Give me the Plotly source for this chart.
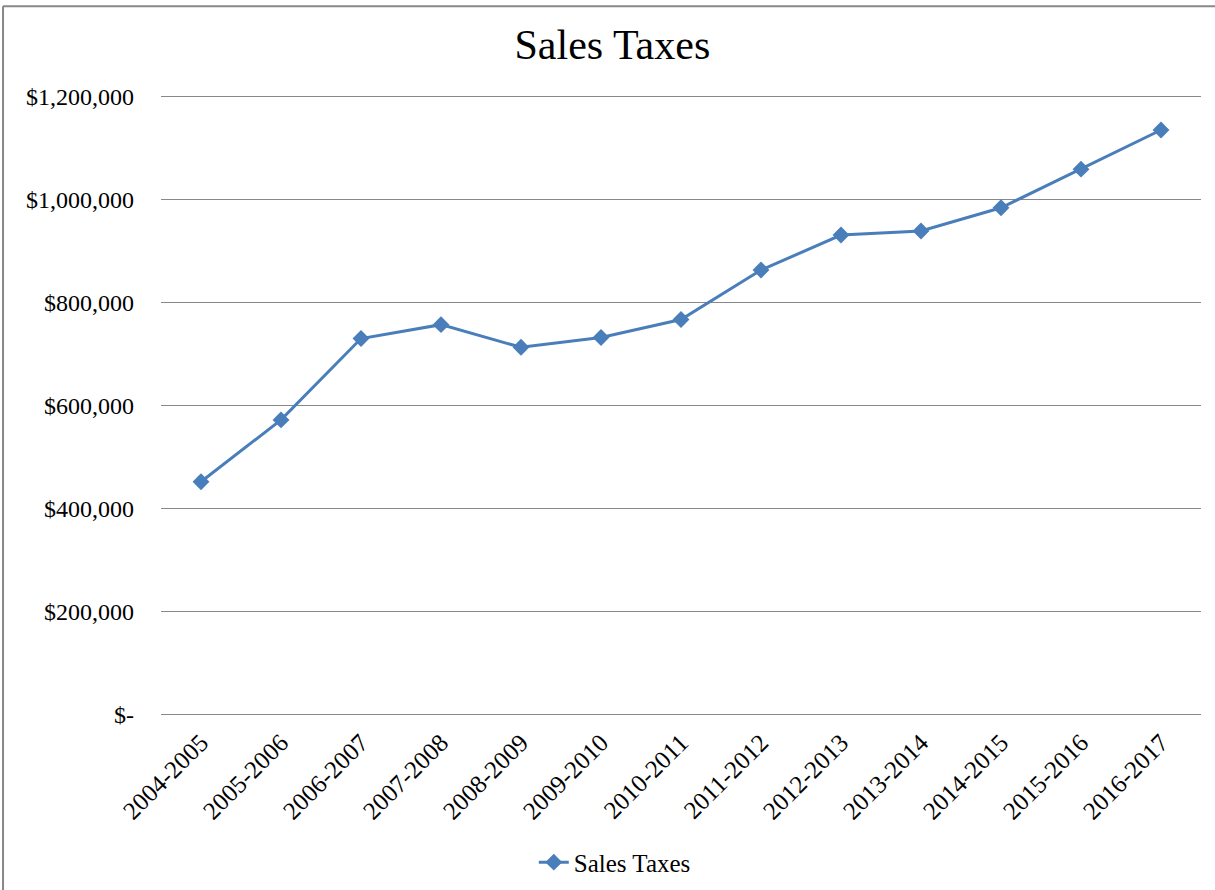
import plotly.graph_objects as go

categories = ["2004-2005", "2005-2006", "2006-2007", "2007-2008", "2008-2009",
              "2009-2010", "2010-2011", "2011-2012", "2012-2013", "2013-2014",
              "2014-2015", "2015-2016", "2016-2017"]
sales_taxes = [452000, 572000, 730000, 757000, 713000, 732000, 767000,
               863000, 931000, 939000, 984000, 1059000, 1135000]
y_tickvals = [0, 200000, 400000, 600000, 800000, 1000000, 1200000]
y_ticktext = ["$-", "$200,000", "$400,000", "$600,000", "$800,000",
              "$1,000,000", "$1,200,000"]

FONT = "Liberation Serif, Times New Roman, serif"
BLUE = "#4a7ebb"

fig = go.Figure()
fig.add_trace(go.Scatter(
    x=categories, y=sales_taxes, mode="lines+markers", name="Sales Taxes",
    line=dict(color=BLUE, width=3),
    marker=dict(symbol="diamond", size=13, color=BLUE),
))

fig.update_layout(
    width=1215, height=890,
    margin=dict(l=161, r=14, t=95, b=174, autoexpand=False),
    paper_bgcolor="white", plot_bgcolor="white",
    font=dict(family=FONT, size=24, color="black"),
    title=dict(text="Sales Taxes", x=0.504, xanchor="center", y=0.950,
               yanchor="middle", font=dict(family=FONT, size=42, color="black")),
    showlegend=True,
    legend=dict(orientation="h", xref="container", yref="container",
                x=0.506, xanchor="center", y=0.031, yanchor="middle",
                font=dict(family=FONT, size=25), bgcolor="rgba(0,0,0,0)"),
    xaxis=dict(type="category", tickangle=-45, showgrid=False, showline=False,
               ticks="", ticklabelstandoff=6, range=[-0.5, 12.5],
               tickfont=dict(size=25), automargin=False),
    yaxis=dict(range=[-3000, 1203000], tickvals=y_tickvals, ticktext=y_ticktext,
               showgrid=True, gridcolor="#888888", gridwidth=1,
               zeroline=False, showline=False, ticks="", ticklabelstandoff=26,
               automargin=False),
)

# Outer chart border (left and top edges visible)
fig.add_shape(type="line", xref="paper", yref="paper",
              x0=-0.1519, x1=-0.1519, y0=1.1431, y1=-0.3, line=dict(color="#888888", width=2))
fig.add_shape(type="line", xref="paper", yref="paper",
              x0=-0.1519, x1=1.02, y0=1.1431, y1=1.1431, line=dict(color="#888888", width=2))

fig.write_html("out.html", post_script="document.body.style.margin='0px';",
               config={"displayModeBar": False})
